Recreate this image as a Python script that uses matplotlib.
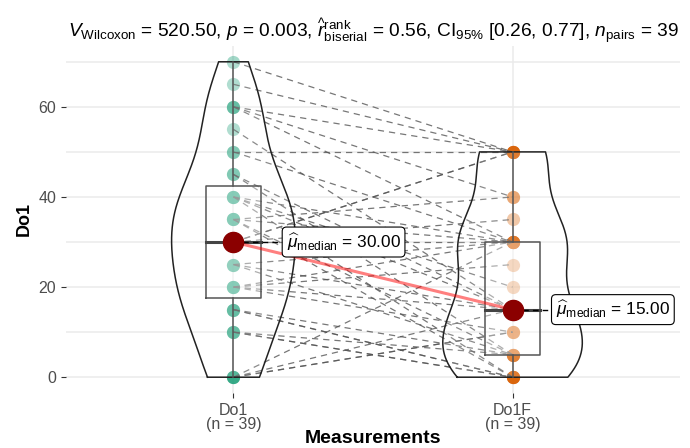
import numpy as np
import matplotlib.pyplot as plt

plt.rcParams['font.family'] = ['Liberation Sans', 'DejaVu Sans']
plt.rcParams['mathtext.fontset'] = 'custom'
plt.rcParams['mathtext.rm'] = 'Liberation Sans'
plt.rcParams['mathtext.it'] = 'Liberation Sans:italic'
plt.rcParams['mathtext.bf'] = 'Liberation Sans:bold'

# paired measurements (same subject on each row)
conditions = ['Do1', 'Do1F']
do1 = [70, 65, 60, 60, 60, 55, 50, 50, 45, 45, 40, 40, 40, 40,
       35, 35, 35, 35, 30, 30, 30, 30, 20, 25, 25, 25, 20, 20, 20,
       0, 15, 15, 15, 10, 10, 10, 0, 0, 0]
do1f = [50, 50, 50, 40, 30, 15, 50, 30, 15, 5, 20, 0, 30, 15,
        30, 5, 0, 40, 50, 50, 35, 30, 30, 15, 5, 30, 15, 10, 25,
        30, 0, 0, 5, 5, 0, 0, 10, 15, 10]
colors = ['#1B9E77', '#D95F02']
title = (r'$V_{\mathrm{Wilcoxon}}$ = 520.50, $p$ = 0.003, '
         r'$\widehat{r}_{\mathrm{biserial}}^{\mathrm{rank}}$ = 0.56, '
         r'$\mathrm{CI}_{95\%}$ [0.26, 0.77], $n_{\mathrm{pairs}}$ = 39')


def kde_nrd0(vals, grid):
    v = np.asarray(vals, float)
    n = len(v)
    sd = v.std(ddof=1)
    q75, q25 = np.percentile(v, [75, 25])
    bw = 0.9 * min(sd, (q75 - q25) / 1.34) * n ** -0.2
    z = (grid[:, None] - v[None, :]) / bw
    return np.exp(-0.5 * z ** 2).sum(1) / (n * bw * np.sqrt(2 * np.pi))


fig, ax = plt.subplots(figsize=(6.9, 4.48), dpi=100)
fig.subplots_adjust(left=0.0957, right=0.9855, bottom=0.1228, top=0.8973)

data = [np.array(do1, float), np.array(do1f, float)]
xs = [1, 2]

# paired dashed lines
for a, b in zip(do1, do1f):
    ax.plot([1, 2], [a, b], color='#555555', lw=0.9, ls=(0, (5, 4)), alpha=0.8, zorder=3)

# points
for x, vals, c in zip(xs, data, colors):
    ax.scatter(np.full(len(vals), x), vals, s=90, color=c, alpha=0.4, lw=0, zorder=2)

# violins (trimmed, shared area scaling)
grids, dens = [], []
for vals in data:
    g = np.linspace(vals.min(), vals.max(), 512)
    grids.append(g)
    dens.append(kde_nrd0(vals, g))
dmax = max(d.max() for d in dens)
for x, g, d in zip(xs, grids, dens):
    w = 0.25 * d / dmax
    px = np.concatenate([x - w, (x + w)[::-1], [x - w[0]]])
    py = np.concatenate([g, g[::-1], [g[0]]])
    ax.fill(px, py, facecolor='white', alpha=0.15, zorder=4)
    ax.plot(px, py, color='#222222', lw=1.1, zorder=5)

# boxplots
for x, vals in zip(xs, data):
    q1, med, q3 = np.percentile(vals, [25, 50, 75])
    iqr = q3 - q1
    lo = vals[vals >= q1 - 1.5 * iqr].min()
    hi = vals[vals <= q3 + 1.5 * iqr].max()
    bw = 0.1
    ax.fill([x - bw, x + bw, x + bw, x - bw], [q1, q1, q3, q3], facecolor='white', alpha=0.3, zorder=4)
    ax.plot([x - bw, x + bw, x + bw, x - bw, x - bw], [q1, q1, q3, q3, q1], color='#555555', lw=1.1, zorder=5)
    ax.plot([x, x], [q3, hi], color='#555555', lw=1.1, zorder=5)
    ax.plot([x, x], [lo, q1], color='#555555', lw=1.1, zorder=5)
    ax.plot([x - bw, x + bw], [med, med], color='#444444', lw=2.2, zorder=5)

# medians
meds = [np.median(v) for v in data]
ax.plot(xs, meds, color='red', alpha=0.5, lw=2.2, zorder=6)
ax.scatter(xs, meds, s=210, color='#8B0000', zorder=7)
label_x = [1.19, 2.155]
for x, m, lx in zip(xs, meds, label_x):
    ax.plot([x, lx], [m, m], color='black', lw=1, ls=(0, (4, 3)), zorder=6)
    ax.text(lx, m, r'$\widehat{\mu}_{\mathrm{median}}$ = %.2f' % m, fontsize=12.4,
            ha='left', va='center', zorder=8,
            bbox=dict(boxstyle='round,pad=0.25', fc='white', ec='black', lw=0.8))

ax.set_xlim(0.4, 2.6)
ax.set_ylim(-3.5, 73.5)
ax.set_xticks(xs)
ax.set_xticklabels([f'{c}\n(n = {len(v)})' for c, v in zip(conditions, data)],
                   color='#4D4D4D', fontsize=11.5, linespacing=0.95)
ax.set_yticks([0, 20, 40, 60])
ax.set_yticks([10, 30, 50, 70], minor=True)
ax.tick_params(axis='y', which='minor', length=0)
ax.tick_params(axis='both', which='major', length=3.5, color='#333333', labelcolor='#4D4D4D', labelsize=11.5)
ax.grid(True, which='both', color='#EBEBEB', lw=1.1, zorder=0)
ax.set_axisbelow(True)
for s in ax.spines.values():
    s.set_visible(False)

ax.set_xlabel('Measurements', fontsize=14, fontweight='bold', va='center')
ax.xaxis.set_label_coords(0.5, -0.131)
ax.set_ylabel('Do1', fontsize=13, fontweight='bold', labelpad=4)
ax.set_title(title, fontsize=13.8, pad=6)

plt.savefig('out.png', dpi=100)
plt.close()
